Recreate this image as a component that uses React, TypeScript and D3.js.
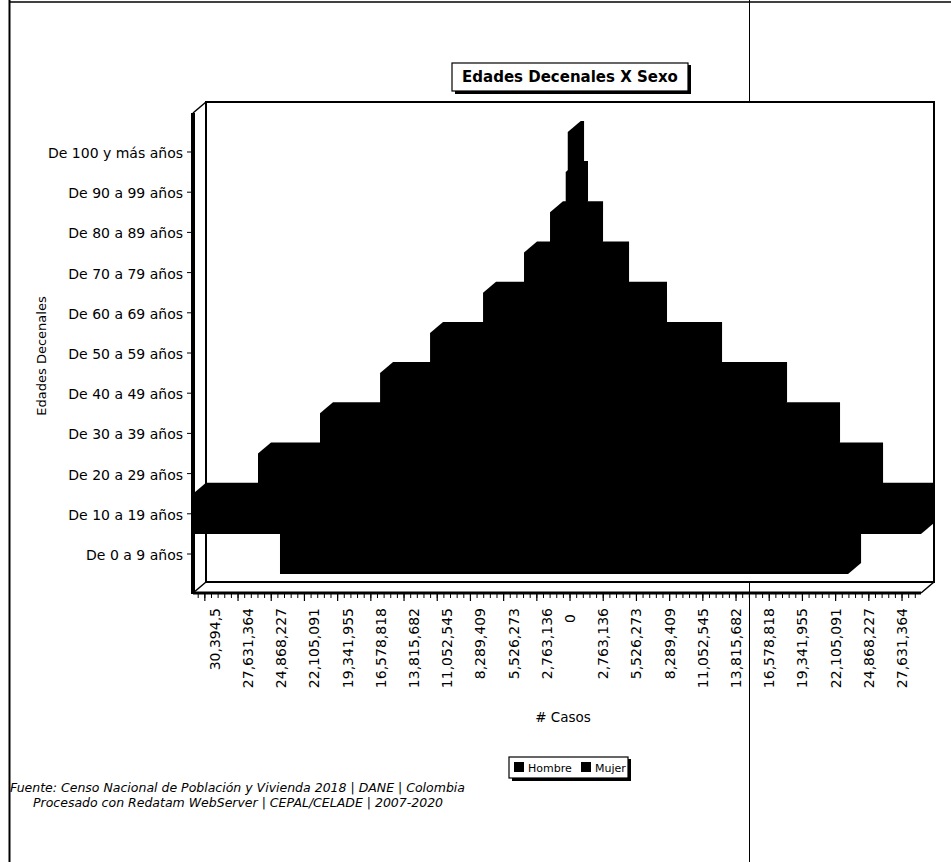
import React from 'react';
import * as d3 from 'd3';

// age groups, bottom to top
const ageGroups = [
  'De 0 a 9 años',
  'De 10 a 19 años',
  'De 20 a 29 años',
  'De 30 a 39 años',
  'De 40 a 49 años',
  'De 50 a 59 años',
  'De 60 a 69 años',
  'De 70 a 79 años',
  'De 80 a 89 años',
  'De 90 a 99 años',
  'De 100 y más años',
];

// values (10-19 runs past the plot edges and is clipped)
const hombre = [24140, 33500, 25970, 20810, 15810, 11650, 7240, 3830, 1665, 360, 190];
const mujer = [23140, 31800, 24970, 21390, 16980, 11570, 6990, 3830, 1665, 415, 85];

const seriesNames = ['Hombre', 'Mujer'];

const tickValues = [
  -30394.5, -27631.364, -24868.227, -22105.091, -19341.955, -16578.818, -13815.682,
  -11052.545, -8289.409, -5526.273, -2763.136, 0, 2763.136, 5526.273, 8289.409,
  11052.545, 13815.682, 16578.818, 19341.955, 22105.091, 24868.227, 27631.364,
];
const tickLabels = [
  '30,394,5', '27,631,364', '24,868,227', '22,105,091', '19,341,955', '16,578,818',
  '13,815,682', '11,052,545', '8,289,409', '5,526,273', '2,763,136', '0', '2,763,136',
  '5,526,273', '8,289,409', '11,052,545', '13,815,682', '16,578,818', '19,341,955',
  '22,105,091', '24,868,227', '27,631,364',
];
const xDomain = [-31380, 29210];

const W = 951;
const H = 862;
const FONT = "'DejaVu Sans', Verdana, sans-serif";

// front face of the 3d box and depth offset
const FL = 193, FR = 921, FT = 113, FB = 593;
const DX = 13, DY = 11;

export default function App() {
  const x = d3.scaleLinear().domain(xDomain).range([FL, FR]);
  const y = d3.scaleBand<string>().domain(ageGroups).range([FB, FT]).paddingOuter(0.47).paddingInner(0);
  const bw = y.bandwidth();

  const step = tickValues[12] - tickValues[11];
  const minorStep = step / 5;
  const minorTicks = d3
    .range(Math.ceil(xDomain[0] / minorStep), Math.floor(xDomain[1] / minorStep) + 1)
    .map((k) => k * minorStep);

  // silhouette of a 3d bar, clipped to the plot box
  const bar3d = (a: number, b: number, top: number, bot: number) => {
    const x0 = Math.max(FL, Math.min(a, b));
    const x1 = Math.min(FR, Math.max(a, b));
    const pts = [
      [x0, bot],
      [x0, top],
      [x0 + DX, top - DY],
      [x1 + DX, top - DY],
      [x1 + DX, bot - DY],
      [x1, bot],
    ];
    return pts.map((p) => p.join(',')).join(' ');
  };

  const bars: { key: string; pts: string }[] = [];
  ageGroups.forEach((g, i) => {
    const top = y(g)!;
    const bot = top + bw;
    bars.push({ key: 'h' + i, pts: bar3d(x(-hombre[i]), x(0), top, bot) });
    bars.push({ key: 'm' + i, pts: bar3d(x(0), x(mujer[i]), top, bot) });
  });

  return (
    <svg
      width={W}
      height={H}
      style={{ position: 'absolute', left: 0, top: 0, background: '#fff' }}
      fontFamily={FONT}
    >
      <rect x={0} y={0} width={W} height={H} fill="#fff" />

      {/* page frame / scan lines */}
      <line x1={9.5} y1={0} x2={9.5} y2={H} stroke="#000" strokeWidth={2} />
      <line x1={9} y1={2} x2={W} y2={2} stroke="#000" strokeWidth={1.5} />
      <line x1={749.5} y1={0} x2={749.5} y2={H} stroke="#000" strokeWidth={1} />

      {/* title */}
      <rect x={452} y={63} width={236} height={28} fill="#fff" stroke="#000" strokeWidth={1.2} />
      <line x1={689.5} y1={65} x2={689.5} y2={93} stroke="#000" strokeWidth={3} />
      <line x1={455} y1={92.5} x2={691} y2={92.5} stroke="#000" strokeWidth={3} />
      <text x={570} y={82} textAnchor="middle" fontSize={15} fontWeight="bold">
        Edades Decenales X Sexo
      </text>

      {/* back wall and floor */}
      <rect x={FL + DX} y={FT - DY} width={FR - FL} height={FB - FT} fill="#fff" stroke="#000" strokeWidth={2} />
      <line x1={FL} y1={FB} x2={FL + DX} y2={FB - DY} stroke="#000" strokeWidth={1.5} />
      <line x1={FR} y1={FB} x2={FR + DX} y2={FB - DY} stroke="#000" strokeWidth={1.5} />
      <line x1={FL} y1={FT} x2={FL + DX} y2={FT - DY} stroke="#000" strokeWidth={1.5} />

      {/* bars */}
      {bars.map((b) => (
        <polygon key={b.key} points={b.pts} fill="#000" />
      ))}

      {/* y axis */}
      <line x1={FL} y1={FT} x2={FL} y2={FB + 1} stroke="#000" strokeWidth={4} />
      {ageGroups.map((g) => {
        const cy = y(g)! + bw / 2;
        return (
          <g key={g}>
            <line x1={187} y1={cy} x2={FL} y2={cy} stroke="#000" strokeWidth={1} />
            <text x={183} y={cy + 2} textAnchor="end" dominantBaseline="middle" fontSize={14}>
              {g}
            </text>
          </g>
        );
      })}
      <text transform="translate(42,356) rotate(-90)" textAnchor="middle" dominantBaseline="middle" fontSize={13}>
        Edades Decenales
      </text>

      {/* x axis */}
      <line x1={FL} y1={FB} x2={FR} y2={FB} stroke="#000" strokeWidth={3} />
      {minorTicks.map((v) => (
        <line key={'mt' + v} x1={x(v)} y1={FB} x2={x(v)} y2={FB + 5} stroke="#000" strokeWidth={1} />
      ))}
      {tickValues.map((v, i) => (
        <g key={'t' + i}>
          <line x1={x(v)} y1={FB} x2={x(v)} y2={FB + 8} stroke="#000" strokeWidth={1.2} />
          <text
            transform={`translate(${x(v) + (v < 0 ? 10 : 0)},${v === 0 ? 614 : 608}) rotate(-90)`}
            textAnchor="end"
            dominantBaseline="central"
            fontSize={14}
          >
            {tickLabels[i]}
          </text>
        </g>
      ))}
      <text x={563} y={722} textAnchor="middle" fontSize={13.5}>
        # Casos
      </text>

      {/* legend */}
      <rect x={509} y={757} width={119} height={21} fill="#fff" stroke="#000" strokeWidth={1.2} />
      <line x1={629.5} y1={759} x2={629.5} y2={780} stroke="#000" strokeWidth={3} />
      <line x1={512} y1={779.5} x2={631} y2={779.5} stroke="#000" strokeWidth={3} />
      {seriesNames.map((s, i) => {
        const lx = i === 0 ? 514 : 581;
        return (
          <g key={s}>
            <rect x={lx} y={762} width={10} height={10} fill="#000" />
            <text x={lx + 14} y={772} fontSize={11}>
              {s}
            </text>
          </g>
        );
      })}

      {/* source */}
      <text x={10} y={792} fontSize={12.5} fontStyle="italic">
        Fuente: Censo Nacional de Población y Vivienda 2018 | DANE | Colombia
      </text>
      <text x={33} y={807} fontSize={12.5} fontStyle="italic">
        Procesado con Redatam WebServer | CEPAL/CELADE | 2007-2020
      </text>
    </svg>
  );
}
